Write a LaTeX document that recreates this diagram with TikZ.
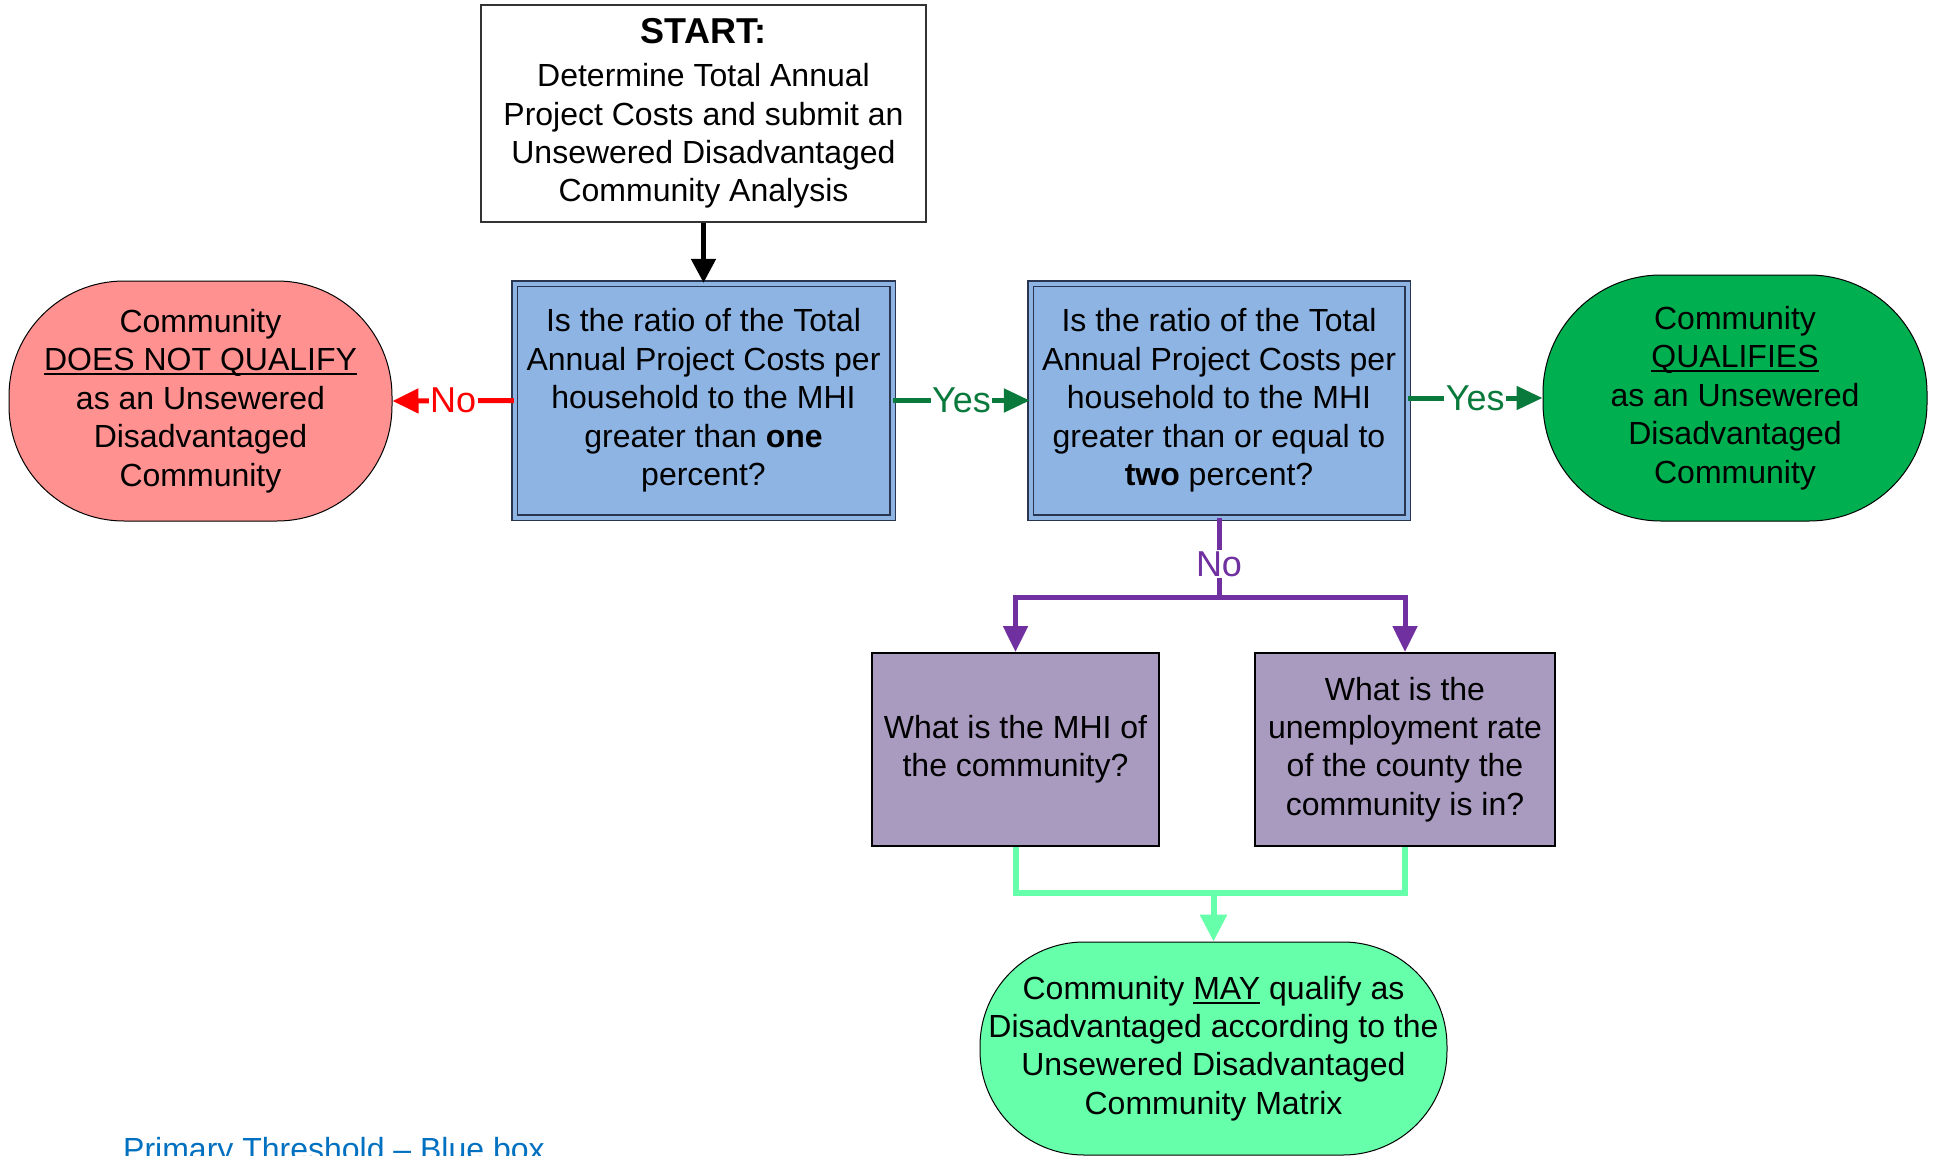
\documentclass[tikz,border=0pt]{standalone}
\usepackage{fontspec}
\setmainfont{Liberation Sans}
\usetikzlibrary{arrows.meta}
\definecolor{bluefill}{HTML}{8EB4E3}
\definecolor{boxedge}{HTML}{2A3550}
\definecolor{redfill}{HTML}{FF9191}
\definecolor{greenfill}{HTML}{00B050}
\definecolor{lgfill}{HTML}{66FFAA}
\definecolor{purpfill}{HTML}{A99BBF}
\definecolor{purpline}{HTML}{7030A0}
\definecolor{darkgreen}{HTML}{0A7A3C}
\definecolor{footblue}{HTML}{0070C0}
\newcommand{\ulbar}[1]{\leavevmode\setbox0=\hbox{#1}\rlap{\rule[-4.5pt]{\wd0}{2pt}}\box0\relax}
\begin{document}
\begin{tikzpicture}[x=1pt,y=-1pt,
  txt/.style={font=\fontsize{32}{38.4}\selectfont, align=center, inner sep=0pt},
  startbox/.style={txt, rectangle, draw=black!80, line width=1.2pt, fill=white},
  bluebox/.style={txt, rectangle, fill=bluefill, draw=boxedge, line width=1.3pt, double=bluefill, double distance=4pt},
  purpbox/.style={txt, rectangle, fill=purpfill, draw=black, line width=2pt},
  stadium/.style={txt, rectangle, draw=black, line width=1pt},
  lab/.style={font=\fontsize{36}{40}\selectfont, fill=white, inner sep=1.5pt},
  blkarrow/.style={draw=black, line width=5pt, -{Triangle[length=24pt,width=24pt]}},
  redarrow/.style={draw=red, line width=5pt, -{Triangle[length=26pt,width=24pt]}},
  grnarrow/.style={draw=darkgreen, line width=5pt, -{Triangle[length=26pt,width=23pt]}},
  purparrow/.style={draw=purpline, line width=5pt, -{Triangle[length=26pt,width=24pt]}},
  purpline/.style={draw=purpline, line width=5pt},
  lgline/.style={draw=lgfill, line width=6pt},
  lgarrow/.style={draw=lgfill, line width=6pt, -{Triangle[length=27pt,width=26pt]}}
]
\useasboundingbox (0,0) rectangle (1933,1156);
\fill[white] (0,0) rectangle (1933,1156);

% nodes
\node[startbox, minimum width=445, minimum height=217] (start) at (703.5,113.5)
  {\textbf{\fontsize{36}{38.4}\selectfont START:}\\[4.6pt]
   Determine Total Annual\\ Project Costs and submit an\\ Unsewered Disadvantaged\\ Community Analysis};

\node[bluebox, minimum width=378, minimum height=234] (q1) at (703.5,400.5)
  {Is the ratio of the Total\\ Annual Project Costs per\\ household to the MHI\\ greater than \textbf{one}\\ percent?};

\node[bluebox, minimum width=377, minimum height=234] (q2) at (1219,400.5)
  {Is the ratio of the Total\\ Annual Project Costs per\\ household to the MHI\\ greater than or equal to\\ \textbf{two} percent?};

\node[stadium, fill=redfill, minimum width=383, minimum height=240, rounded corners=115pt] (red) at (200.5,401)
  {Community\\ \ulbar{DOES NOT QUALIFY}\\ as an Unsewered\\ Disadvantaged\\ Community};

\node[stadium, fill=greenfill, minimum width=384, minimum height=246, rounded corners=118pt] (grn) at (1735,398)
  {Community\\ \ulbar{QUALIFIES}\\ as an Unsewered\\ Disadvantaged\\ Community};

\node[purpbox, minimum width=287, minimum height=193] (m1) at (1015.5,749.5)
  {What is the MHI of\\ the community?};

\node[purpbox, minimum width=300, minimum height=193] (m2) at (1405,749.5)
  {What is the\\ unemployment rate\\ of the county the\\ community is in?};

\node[stadium, fill=lgfill, minimum width=467, minimum height=213, rounded corners=104pt] (may) at (1213.5,1048.5)
  {Community \ulbar{MAY} qualify as\\ Disadvantaged according to the\\ Unsewered Disadvantaged\\ Community Matrix};

\node[anchor=base west, font=\fontsize{32}{38.4}\selectfont, text=footblue, inner sep=0pt] (foot) at (123,1160)
  {Primary Threshold -- Blue box};

% connectors
\draw[blkarrow] (start.south) -- (q1.north);
\draw[redarrow] (q1.west) -- node[lab, text=red] {No} (red.east);
\draw[grnarrow] (q1.east) -- node[lab, text=darkgreen] {Yes} (q2.west);
\draw[grnarrow] (q2.east |- grn.west) -- node[lab, text=darkgreen] {Yes} (grn.west);

\coordinate (pj) at (1219,597);
\draw[purpline] (q2.south) -- node[lab, text=purpline, pos=0.58] {No} (pj);
\draw[purparrow] (pj) -| (m1.north);
\draw[purparrow] (pj) -| (m2.north);

\coordinate (gj) at (1213.5,893);
\draw[lgline] (m1.south) |- (gj);
\draw[lgline] (m2.south) |- (gj);
\draw[lgarrow] (gj) -- (may.north);
\end{tikzpicture}
\end{document}
